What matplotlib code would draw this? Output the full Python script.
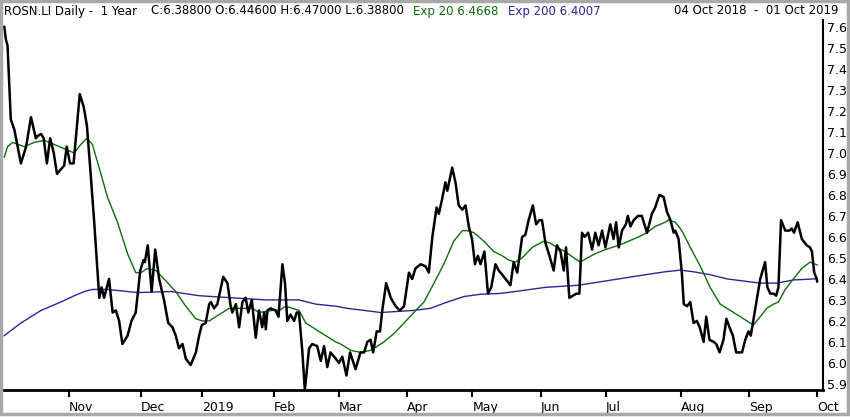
import numpy as np
import pandas as pd
import matplotlib
matplotlib.use("Agg")
import matplotlib.pyplot as plt
from matplotlib.patches import Rectangle

# trading calendar (LSE) for the year shown
START, END = "2018-10-04", "2019-10-01"
HOLIDAYS = ["2018-12-25", "2018-12-26", "2019-01-01", "2019-04-19", "2019-04-22",
            "2019-05-06", "2019-05-27", "2019-08-26"]

# close (x = session number since 04 Oct 2018)
close_day = [0.1, 0.6, 1.1, 2.1, 3.2, 3.7, 5.2, 6.8, 8.3, 9.8, 10.3, 11.4, 12.2, 13.2, 14.2,
             15.3, 16.3, 18.5, 19.3, 20.3, 21.4, 23.3, 24.5, 25.5, 26.5, 27.7, 28.8, 29.3,
             30.0, 30.8, 31.6, 32.3, 33.4, 34.4, 35.4, 36.4, 38.0, 39.2, 40.5, 41.9, 42.9,
             43.3, 44.2, 45.4, 46.5, 47.7, 49.2, 50.5, 51.8, 52.8, 53.8, 54.9, 55.9, 57.4,
             59.0, 60.0, 60.8, 62.0, 63.1, 63.6, 64.6, 65.6, 67.4, 68.7, 69.7, 70.2, 71.3,
             72.3, 73.3, 74.3, 75.1, 76.2, 77.4, 78.4, 79.4, 80.0, 80.5, 81.0, 82.0, 83.5,
             84.4, 85.6, 86.4, 87.1, 88.1, 89.2, 90.0, 90.7, 91.7, 92.5, 93.8, 94.8, 96.3,
             97.4, 98.4, 99.4, 100.4, 102.0, 103.0, 104.0, 105.3, 106.4, 108.1, 109.6,
             110.7, 111.7, 112.7, 113.5, 114.6, 115.6, 116.3, 117.5, 118.9, 120.4, 121.7,
             123.0, 124.5, 125.5, 126.5, 128.1, 129.6, 130.6, 131.7, 133.0, 133.7, 134.7,
             135.7, 136.3, 137.8, 138.8, 139.8, 140.9, 141.9, 142.9, 143.9, 144.8, 145.7,
             146.5, 147.7, 148.8, 149.8, 151.1, 152.1, 153.2, 154.2, 155.7, 156.7, 157.8,
             159.3, 160.3, 161.3, 162.6, 163.6, 164.6, 165.4, 166.5, 167.7, 169.0, 170.0,
             171.1, 172.1, 172.8, 173.8, 174.9, 176.0, 176.9, 177.7, 178.5, 179.6, 180.8,
             181.8, 182.8, 183.9, 184.9, 186.4, 187.4, 188.2, 189.0, 190.0, 191.2, 191.8,
             192.6, 193.6, 194.9, 196.1, 197.7, 199.2, 200.2, 201.5, 202.8, 203.8, 204.9,
             205.9, 206.4, 207.4, 208.4, 209.0, 210.0, 211.0, 212.0, 213.0, 213.9, 215.1,
             215.9, 216.9, 218.2, 219.0, 220.0, 221.2, 222.1, 223.3, 224.1, 225.1, 226.9,
             227.9, 228.9, 229.6, 231.0, 232.5, 234.0, 234.7, 235.6, 236.6, 237.4, 238.1,
             238.9, 240.2, 241.5, 242.2, 242.9, 244.0, 245.3, 246.8, 247.8, 248.4, 249.1,
             249.9, 250.0]
close_px = [7.60, 7.54, 7.51, 7.16, 7.11, 7.07, 6.95, 7.03, 7.17, 7.07, 7.08, 7.09, 7.07, 6.95,
            7.07, 7.00, 6.90, 6.94, 7.03, 6.95, 6.95, 7.28, 7.22, 7.13, 6.93, 6.68, 6.43, 6.31,
            6.36, 6.31, 6.36, 6.40, 6.24, 6.25, 6.20, 6.09, 6.13, 6.20, 6.24, 6.44, 6.49,
            6.48, 6.56, 6.34, 6.54, 6.40, 6.30, 6.19, 6.17, 6.13, 6.07, 6.09, 6.02, 5.99,
            6.05, 6.13, 6.18, 6.19, 6.28, 6.29, 6.26, 6.28, 6.41, 6.38, 6.27, 6.24, 6.28,
            6.17, 6.29, 6.31, 6.24, 6.30, 6.12, 6.25, 6.17, 6.24, 6.16, 6.25, 6.26, 6.25,
            6.22, 6.47, 6.38, 6.20, 6.23, 6.20, 6.24, 6.24, 6.06, 5.87, 6.07, 6.09, 6.08,
            6.01, 6.08, 5.98, 6.05, 6.02, 6.00, 6.03, 5.94, 6.05, 5.97, 6.05,
            6.05, 6.10, 6.11, 6.05, 6.15, 6.15, 6.25, 6.38, 6.31, 6.27, 6.25,
            6.27, 6.43, 6.40, 6.45, 6.47, 6.46, 6.43, 6.60, 6.74, 6.71, 6.78,
            6.86, 6.82, 6.93, 6.86, 6.75, 6.73, 6.75, 6.65, 6.59, 6.47, 6.51,
            6.47, 6.53, 6.33, 6.36, 6.47, 6.44, 6.42, 6.40, 6.37, 6.48, 6.43,
            6.60, 6.61, 6.68, 6.75, 6.66, 6.68, 6.68, 6.57, 6.51, 6.44, 6.56,
            6.53, 6.44, 6.55, 6.31, 6.32, 6.33, 6.33, 6.62, 6.60, 6.62, 6.54,
            6.62, 6.56, 6.63, 6.55, 6.66, 6.59, 6.67, 6.55, 6.63, 6.66, 6.70,
            6.65, 6.68, 6.70, 6.70, 6.62, 6.71, 6.74, 6.80, 6.79, 6.72, 6.68,
            6.62, 6.63, 6.59, 6.43, 6.28, 6.27, 6.29, 6.19, 6.20, 6.17, 6.10,
            6.22, 6.11, 6.10, 6.09, 6.05, 6.11, 6.21, 6.16, 6.13, 6.05, 6.05,
            6.11, 6.15, 6.13, 6.26, 6.40, 6.48, 6.36, 6.33, 6.33, 6.32, 6.36,
            6.68, 6.63, 6.63, 6.64, 6.62, 6.67, 6.59, 6.56, 6.55, 6.53, 6.43,
            6.40, 6.388]

# Exp 20
ema20_day = [0.1, 1.1, 2.7, 6.2, 9.3, 12.4, 15.5, 18.5, 21.6, 23.6, 25.5, 27.2, 29.8, 31.8,
             34.9, 38.0, 40.5, 42.1, 44.1, 46.7, 49.2, 52.8, 55.9, 59.0, 61.0, 63.1, 65.1,
             67.2, 69.2, 74.3, 76.4, 78.4, 82.5, 84.6, 86.6, 90.7, 92.8, 95.8, 98.9, 102.0,
             103.5, 106.6, 109.6, 112.7, 114.8, 116.8, 119.9, 123.0, 126.0, 129.1, 132.2,
             135.2, 138.3, 140.9, 142.4, 144.5, 147.5, 150.6, 153.2, 155.2, 157.2, 159.3,
             162.4, 166.0, 168.0, 170.0, 172.6, 175.2, 177.2, 179.3, 181.8, 184.9, 189.0,
             192.1, 195.1, 197.7, 200.2, 203.3, 204.3, 206.4, 208.4, 211.0, 214.1, 217.1,
             220.2, 223.3, 226.4, 229.4, 230.4, 232.5, 234.5, 236.6, 238.1, 240.2, 242.7,
             245.3, 247.8, 250.0]
ema20_val = [6.98, 7.03, 7.05, 7.03, 7.05, 7.06, 7.04, 7.02, 7.00, 7.04, 7.07, 7.04, 6.90, 6.79,
             6.67, 6.52, 6.43, 6.43, 6.45, 6.44, 6.40, 6.34, 6.27, 6.21, 6.20, 6.20, 6.22,
             6.24, 6.26, 6.26, 6.26, 6.24, 6.25, 6.25, 6.27, 6.25, 6.19, 6.16, 6.13, 6.10,
             6.09, 6.06, 6.05, 6.06, 6.08, 6.10, 6.14, 6.19, 6.24, 6.29, 6.38,
             6.47, 6.58, 6.63, 6.63, 6.62, 6.58, 6.53, 6.51, 6.49, 6.48, 6.50,
             6.55, 6.58, 6.57, 6.55, 6.53, 6.50, 6.48, 6.50, 6.52, 6.54, 6.56,
             6.58, 6.60, 6.62, 6.65, 6.67, 6.68, 6.67, 6.63, 6.55, 6.46, 6.36,
             6.28, 6.25, 6.22, 6.19, 6.18, 6.22, 6.26, 6.28, 6.29, 6.35, 6.40,
             6.45, 6.48, 6.4668]

# Exp 200
ema200_day = [0.1, 5.2, 11.4, 17.5, 21.6, 24.7, 27.2, 31.8, 41.0, 51.3, 60.0, 70.2, 80.5, 90.7,
              95.8, 102.0, 105.5, 110.7, 115.8, 126.0, 131.1, 136.3, 141.4, 146.5, 152.6,
              157.2, 166.5, 176.7, 186.9, 197.2, 203.3, 207.9, 212.0, 217.1, 222.3, 227.4,
              232.5, 237.6, 242.7, 250.0]
ema200_val = [6.13, 6.19, 6.25, 6.29, 6.32, 6.34, 6.35, 6.35, 6.335, 6.34, 6.32, 6.31, 6.30, 6.30,
              6.28, 6.27, 6.26, 6.25, 6.24, 6.25, 6.26, 6.29, 6.316, 6.327, 6.331,
              6.34, 6.36, 6.37, 6.395, 6.42, 6.434, 6.442, 6.434, 6.42, 6.40, 6.39,
              6.38, 6.38, 6.395, 6.4007]

month_names = ["Nov", "Dec", "2019", "Feb", "Mar", "Apr", "May", "Jun", "Jul", "Aug", "Sep", "Oct"]
y_ticks = [5.9, 6.0, 6.1, 6.2, 6.3, 6.4, 6.5, 6.6, 6.7, 6.8, 6.9, 7.0, 7.1, 7.2, 7.3, 7.4, 7.5, 7.6]

GREEN = "#0b6e0b"
PURPLE = "#36209a"
FONT = "DejaVu Sans"


def main():
    sessions = pd.bdate_range(START, END, freq="C", holidays=HOLIDAYS)
    s = pd.Series(np.arange(len(sessions)), index=sessions)
    month_pos = s.groupby([sessions.year, sessions.month]).first().values[1:]

    fig = plt.figure(figsize=(8.5, 4.17), dpi=100)
    fig.patch.set_facecolor("white")
    ax = fig.add_axes([3 / 850, 27 / 417, 820 / 850, 370 / 417])

    ax.plot(ema200_day, ema200_val, color=PURPLE, lw=1.0, zorder=2)
    ax.plot(ema20_day, ema20_val, color=GREEN, lw=1.0, zorder=3)
    ax.plot(close_day, close_px, color="black", lw=1.8, zorder=4)

    ax.set_xlim(-0.3, 251.8)
    ax.set_ylim(5.871, 7.633)

    for side in ["top", "left"]:
        ax.spines[side].set_visible(False)
    ax.spines["bottom"].set_linewidth(2)
    ax.spines["right"].set_linewidth(1.5)

    ax.set_xticks(month_pos)
    ax.set_xticklabels(month_names, ha="left", fontsize=9, family=FONT)
    ax.tick_params(axis="x", direction="out", length=5, width=1.5, pad=3)

    ax.yaxis.tick_right()
    ax.set_yticks(y_ticks)
    ax.set_yticklabels([f"{v:.1f}" for v in y_ticks], fontsize=9, family=FONT)
    ax.tick_params(axis="y", length=0, pad=3)

    # header
    ty = 1 - 11 / 417
    kw = dict(fontsize=8.5, family=FONT, va="center", transform=fig.transFigure)
    fig.text(4 / 850, ty, "ROSN.LI Daily -  1 Year", **kw)
    fig.text(151 / 850, ty, "C:6.38800 O:6.44600 H:6.47000 L:6.38800", **kw)
    fig.text(413 / 850, ty, "Exp 20 6.4668", color=GREEN, **kw)
    fig.text(508 / 850, ty, "Exp 200 6.4007", color=PURPLE, **kw)
    fig.text(838 / 850, ty, "04 Oct 2018  -  01 Oct 2019", ha="right", **kw)

    # grey frame around the whole chart
    fig.patches.append(Rectangle((0.001, 0.006), 0.997, 0.992, transform=fig.transFigure,
                                 fill=False, edgecolor="#a8a8a8", lw=2.5))

    fig.savefig("out.png", dpi=100)


if __name__ == "__main__":
    main()
